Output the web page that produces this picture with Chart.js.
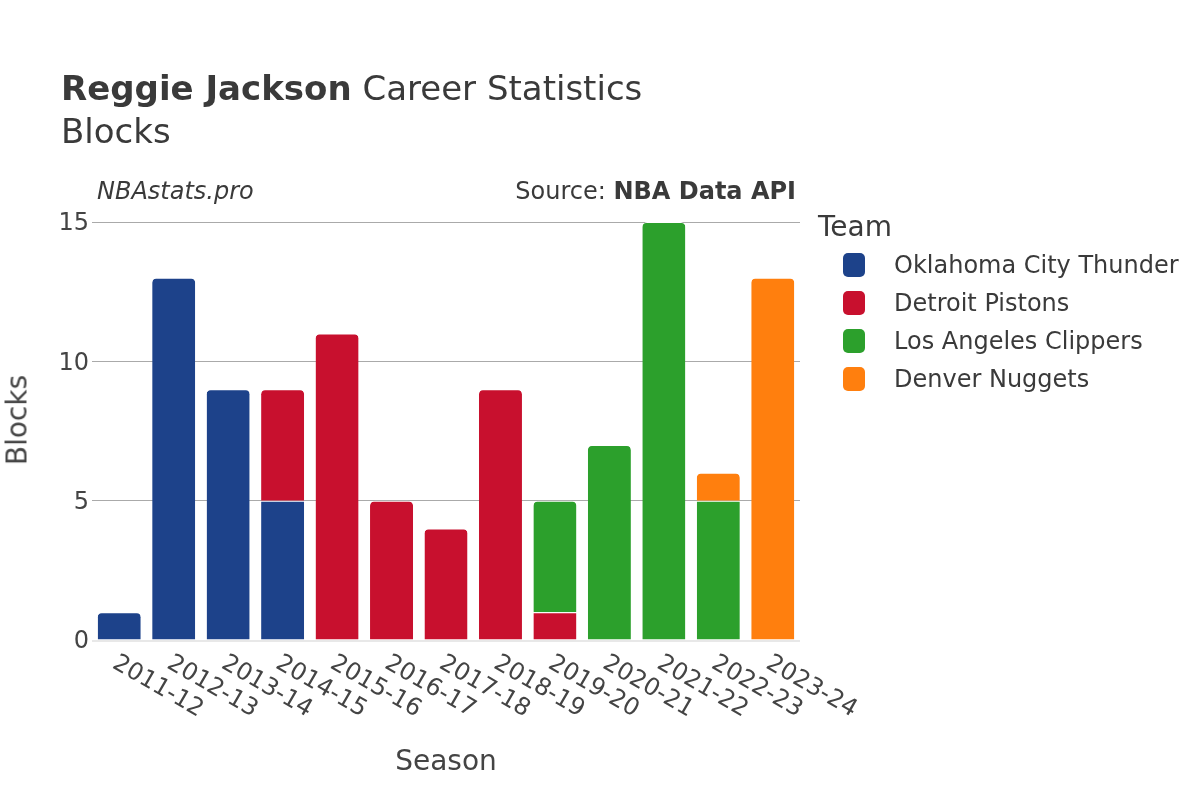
<!DOCTYPE html>
<html>
<head>
<meta charset="utf-8">
<script src="https://cdn.jsdelivr.net/npm/chart.js@4/dist/chart.umd.min.js"></script>
<style>
  html, body { margin: 0; padding: 0; background: #fff; }
  #wrap { position: relative; width: 1200px; height: 800px; font-family: "DejaVu Sans", sans-serif; color: #444; }
  #c { position: absolute; left: 0; top: 0; }
  .t { position: absolute; white-space: nowrap; }
  #title { left: 61px; top: 68px; font-size: 34px; color: #3a3a3a; line-height: 40px; }
  #sub { left: 61px; top: 111px; font-size: 34px; color: #3a3a3a; line-height: 40px; }
  #site { left: 97px; top: 177px; font-size: 24px; line-height: 28px; font-style: italic; color: #3a3a3a; }
  #src { right: 404px; top: 177px; font-size: 24px; line-height: 28px; color: #3a3a3a; }
  #ytitle { left: 17px; top: 420px; font-size: 28px; color: #444; transform: translate(-50%, -50%) rotate(-90deg); }
  #xtitle { left: 446px; top: 760px; font-size: 28px; color: #444; transform: translate(-50%, -50%); }
  #legend { left: 818px; top: 208px; }
  #legend .lt { font-size: 28px; color: #3a3a3a; height: 38px; line-height: 38px; }
  #legend .it { display: flex; align-items: center; height: 38px; font-size: 24px; line-height: 28px; color: #3a3a3a; }
  #legend .sw { width: 22px; height: 24px; border-radius: 5px; margin-left: 25px; margin-right: 29px; }
</style>
</head>
<body>
<div id="wrap">
  <canvas id="c" width="1200" height="800"></canvas>
  <div class="t" id="title"><b>Reggie Jackson</b> Career Statistics</div>
  <div class="t" id="sub">Blocks</div>
  <div class="t" id="site">NBAstats.pro</div>
  <div class="t" id="src">Source: <b>NBA Data API</b></div>
  <div class="t" id="ytitle">Blocks</div>
  <div class="t" id="xtitle">Season</div>
  <div class="t" id="legend"></div>
</div>
<script>
const seasons = ["2011-12","2012-13","2013-14","2014-15","2015-16","2016-17","2017-18","2018-19","2019-20","2020-21","2021-22","2022-23","2023-24"];
const teams = ["Oklahoma City Thunder","Detroit Pistons","Los Angeles Clippers","Denver Nuggets"];
const teamColors = ["#1d428a","#c8102e","#2ca02c","#ff7f0e"];
const okcBlocks = [1,13,9,5,null,null,null,null,null,null,null,null,null];
const detBlocks = [null,null,null,4,11,5,4,9,1,null,null,null,null];
const lacBlocks = [null,null,null,null,null,null,null,null,4,7,15,5,null];
const denBlocks = [null,null,null,null,null,null,null,null,null,null,null,1,13];
const yTicks = [0,5,10,15];

const seriesValues = [okcBlocks, detBlocks, lacBlocks, denBlocks];

function isTop(di, i) {
  for (let k = di + 1; k < seriesValues.length; k++) {
    if (seriesValues[k][i]) return false;
  }
  return true;
}

const datasets = teams.map((t, di) => ({
  label: t,
  data: seriesValues[di],
  backgroundColor: teamColors[di],
  borderColor: "#ffffff",
  borderWidth: {top: 1, left: 0, right: 0, bottom: 0},
  borderSkipped: "bottom",
  borderRadius: (ctx) => isTop(di, ctx.dataIndex) ? {topLeft: 5, topRight: 5, bottomLeft: 0, bottomRight: 0} : 0,
  barPercentage: 0.79,
  categoryPercentage: 1.0
}));

const xLabelPlugin = {
  id: "xlabels",
  afterDraw(chart) {
    const ctx = chart.ctx;
    const xs = chart.scales.x;
    const area = chart.chartArea;
    ctx.save();
    ctx.strokeStyle = "#e8e8e8";
    ctx.lineWidth = 2;
    ctx.beginPath();
    ctx.moveTo(area.left, area.bottom + 1);
    ctx.lineTo(area.right, area.bottom + 1);
    ctx.stroke();
    ctx.fillStyle = "#444";
    ctx.font = '24px "DejaVu Sans"';
    ctx.textAlign = "left";
    ctx.textBaseline = "alphabetic";
    seasons.forEach((s, i) => {
      const x = xs.getPixelForValue(i);
      ctx.save();
      ctx.translate(x - 8, area.bottom + 27);
      ctx.rotate(30 * Math.PI / 180);
      ctx.fillText(s, 0, 0);
      ctx.restore();
    });
    ctx.restore();
  }
};

new Chart(document.getElementById("c"), {
  type: "bar",
  data: { labels: seasons, datasets },
  options: {
    responsive: false,
    animation: false,
    devicePixelRatio: 1,
    layout: { padding: { left: 0, top: 222, right: 400, bottom: 160 } },
    plugins: { legend: { display: false }, tooltip: { enabled: false } },
    scales: {
      x: {
        stacked: true,
        grid: { display: false },
        border: { display: false },
        ticks: { display: false },
        afterFit(s) { s.height = 0; }
      },
      y: {
        stacked: true,
        min: 0,
        max: 15,
        afterBuildTicks(s) { s.ticks = yTicks.map(v => ({ value: v })); },
        grid: {
          drawTicks: false,
          color: (c) => c.tick && c.tick.value === 0 ? "rgba(0,0,0,0)" : "#aaaaaa",
          lineWidth: 1
        },
        border: { display: false },
        ticks: { padding: 3, labelOffset: 2, color: "#444", font: { family: "DejaVu Sans", size: 24 } },
        afterFit(s) { s.width = 92; }
      }
    }
  },
  plugins: [xLabelPlugin]
});

const lg = document.getElementById("legend");
const lt = document.createElement("div");
lt.className = "lt";
lt.textContent = "Team";
lg.appendChild(lt);
teams.forEach((t, i) => {
  const it = document.createElement("div");
  it.className = "it";
  const sw = document.createElement("div");
  sw.className = "sw";
  sw.style.background = teamColors[i];
  const tx = document.createElement("span");
  tx.textContent = t;
  it.appendChild(sw);
  it.appendChild(tx);
  lg.appendChild(it);
});
</script>
</body>
</html>
